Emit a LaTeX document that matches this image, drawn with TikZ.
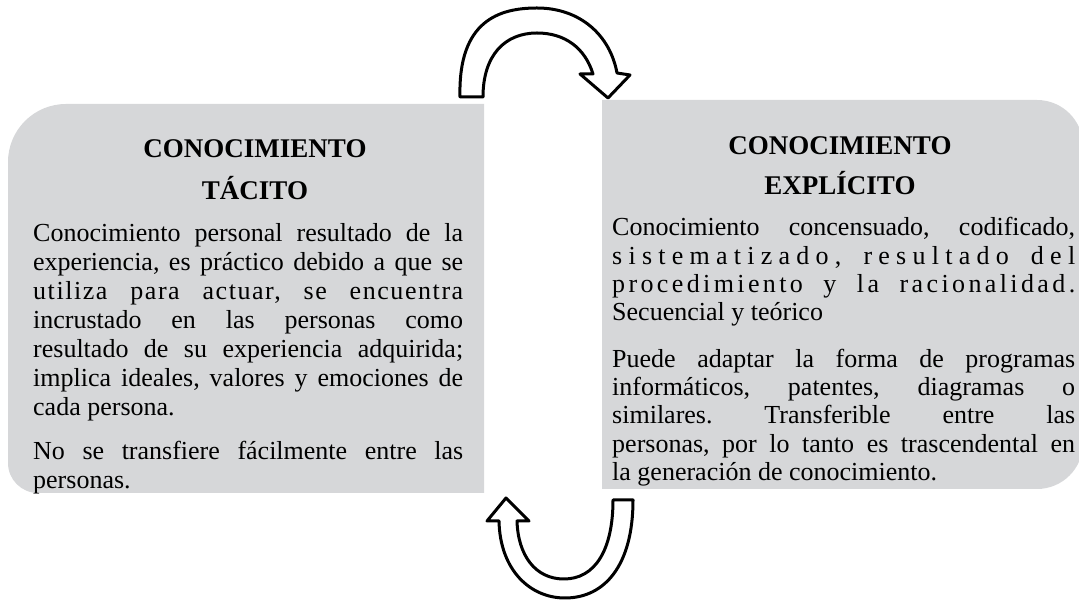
\documentclass[tikz,border=0pt]{standalone}
\usepackage{fontspec}
\setmainfont{Liberation Serif}
\definecolor{boxgray}{RGB}{214,215,217}
\newcommand{\jl}[2][0]{\makebox[\linewidth][s]{\addfontfeature{LetterSpace=#1}#2}}
\tikzset{
  panel/.style={fill=boxgray, draw=none},
  bigarrow/.style={draw=black, fill=white, line width=3pt, line join=round},
  heading/.style={font=\bfseries\fontsize{27}{#1}\selectfont, anchor=base, inner sep=0pt, text width=320pt, align=center},
  body/.style={font=\fontsize{26}{#1}\selectfont\frenchspacing, anchor=base west, inner sep=0pt, align=justify},
}
\begin{document}
\begin{tikzpicture}[x=1pt,y=1pt]
\useasboundingbox (0,0) rectangle (1079,602);
\clip (0,0) rectangle (1079,602);
% panels
\fill[panel] (484,498) -- (484,109) -- (38,109) arc[start angle=-90,end angle=-180,radius=30]
  -- (8,440) arc[start angle=180,end angle=90,radius=58] -- cycle;
\fill[panel] (602,502) -- (1037,502) arc[start angle=90,end angle=0,radius=46]
  -- (1083,159) arc[start angle=0,end angle=-90,radius=46] -- (602,113) -- cycle;
% top arrow
\draw[bigarrow] (460,505) .. controls (458,582) and (500,594) .. (537,594)
  .. controls (580,594) and (610,567) .. (617,529)
  -- (630,527) -- (608,504) -- (580,528) -- (593,528)
  .. controls (585,554) and (565,569) .. (537,569)
  .. controls (505,569) and (483,547) .. (483,505) -- cycle;
% bottom arrow
\draw[bigarrow] (633,102) .. controls (633,37) and (605,4) .. (565,4)
  .. controls (530,4) and (500,32) .. (499,81)
  -- (487,81) -- (506,104) -- (529,81) -- (517,81)
  .. controls (518,47) and (535,23) .. (564,23)
  .. controls (595,23) and (613,52) .. (613,102) -- cycle;
% headings
\node[heading=42pt] (th) at (255,444) {CONOCIMIENTO\\TÁCITO};
\node[heading=40pt] (eh) at (840,447) {CONOCIMIENTO\\EXPLÍCITO};
% left body
\node[body=29pt, text width=430pt] (tb) at (33,360) {%
\jl{Conocimiento personal resultado de la}\\
\jl{experiencia, es práctico debido a que se}\\
\jl[6]{utiliza para actuar, se encuentra}\\
\jl{incrustado en las personas como}\\
\jl{resultado de su experiencia adquirida;}\\
\jl{implica ideales, valores y emociones de}\\
cada persona.\\[15pt]
\jl{No se transfiere fácilmente entre las}\\
personas.};
% right body
\node[body=28.3pt, text width=463pt] (eb) at (612,366) {%
\jl{Conocimiento concensuado, codificado,}\\
\jl[24]{sistematizado, resultado del}\\
\jl[13]{procedimiento y la racionalidad.}\\
Secuencial y teórico\\[18pt]
\jl{Puede adaptar la forma de programas}\\
\jl{informáticos, patentes, diagramas o}\\
\jl{similares. Transferible entre las}\\
\jl{personas, por lo tanto es trascendental en}\\
la generación de conocimiento.};
\end{tikzpicture}
\end{document}
